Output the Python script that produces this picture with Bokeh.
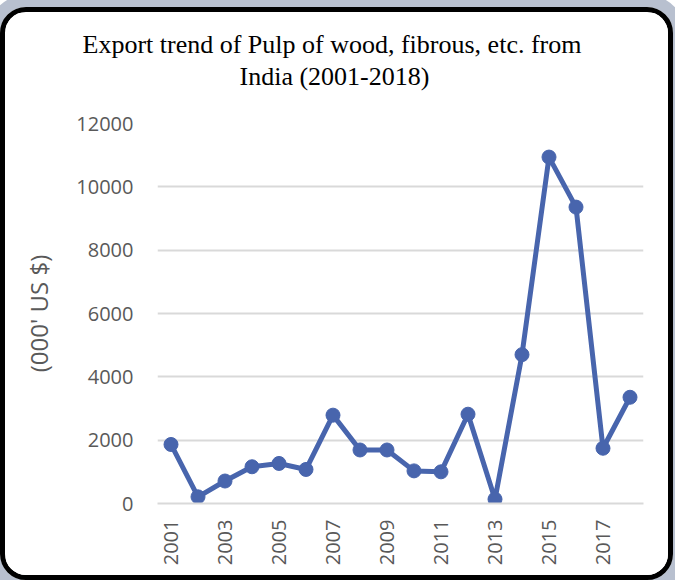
import math
from bokeh.plotting import figure
from bokeh.models import Range1d, FixedTicker, Title, ColumnDataSource
from bokeh.embed import file_html
from bokeh.resources import INLINE

# ---- data ----
years = [2001, 2002, 2003, 2004, 2005, 2006, 2007, 2008, 2009,
         2010, 2011, 2012, 2013, 2014, 2015, 2016, 2017, 2018]
exports = [1864, 210, 710, 1160, 1265, 1075, 2790, 1690, 1690,
           1030, 1000, 2820, 136, 4700, 10940, 9360, 1745, 3355]
x_tick_years = [2001, 2003, 2005, 2007, 2009, 2011, 2013, 2015, 2017]
y_ticks = [0, 2000, 4000, 6000, 8000, 10000, 12000]
title_line1 = "Export trend of Pulp of wood, fibrous, etc. from"
title_line2 = "India (2001-2018)"
y_label = "(000' US $)"

LINE_COLOR = "#4865ad"
TEXT_GRAY = "#595959"
GRID_GRAY = "#d9d9d9"

src = ColumnDataSource(dict(year=years, value=exports))

p = figure(width=673, height=573, output_backend="svg", toolbar_location=None,
           x_range=Range1d(2000.5, 2018.5), y_range=Range1d(0, 12000),
           min_border_left=152, min_border_right=35,
           min_border_top=111, min_border_bottom=82)

p.styles = {"border": "5px solid black", "border-radius": "26px",
            "overflow": "hidden", "margin-top": "7px",
            "box-shadow": "0 0 0 12px #b8c0cf"}

p.background_fill_color = "white"
p.border_fill_color = "white"
p.outline_line_color = None

# two-line title (line 2 added first -> closest to plot)
t2 = Title(text=title_line2, align="left", offset=82,
           text_font="Liberation Serif", text_font_size="26px",
           text_font_style="normal", text_color="black", standoff=66)
t1 = Title(text=title_line1, align="left", offset=-75,
           text_font="Liberation Serif", text_font_size="26px",
           text_font_style="normal", text_color="black", standoff=-64)
p.add_layout(t2, "above")
p.add_layout(t1, "above")

# y axis
p.yaxis.ticker = FixedTicker(ticks=y_ticks)
p.yaxis.axis_line_color = None
p.yaxis.major_tick_line_color = None
p.yaxis.major_tick_out = 0
p.yaxis.minor_tick_line_color = None
p.yaxis.minor_tick_out = 0
p.yaxis.major_label_text_font = "Open Sans"
p.yaxis.major_label_text_font_size = "20px"
p.yaxis.major_label_text_color = TEXT_GRAY
p.yaxis.major_label_standoff = 24
p.yaxis.axis_label = y_label
p.yaxis.axis_label_text_font = "Open Sans"
p.yaxis.axis_label_text_font_size = "24px"
p.yaxis.axis_label_text_font_style = "normal"
p.yaxis.axis_label_text_color = TEXT_GRAY
p.yaxis.axis_label_standoff = 18

# x axis
p.xaxis.ticker = FixedTicker(ticks=x_tick_years)
p.xaxis.axis_line_color = GRID_GRAY
p.xaxis.axis_line_width = 2
p.xaxis.major_tick_line_color = None
p.xaxis.major_tick_out = 0
p.xaxis.minor_tick_line_color = None
p.xaxis.minor_tick_out = 0
p.xaxis.major_label_orientation = math.pi / 2
p.xaxis.major_label_text_font = "Open Sans"
p.xaxis.major_label_text_font_size = "20px"
p.xaxis.major_label_text_color = TEXT_GRAY
p.xaxis.major_label_standoff = 16

# grid
p.xgrid.grid_line_color = None
p.ygrid.grid_line_color = GRID_GRAY
p.ygrid.grid_line_width = 2

p.line("year", "value", source=src, line_color=LINE_COLOR, line_width=5)
p.scatter("year", "value", source=src, size=14, fill_color=LINE_COLOR,
          line_color=LINE_COLOR)

open("out.html", "w").write(file_html(p, INLINE))
